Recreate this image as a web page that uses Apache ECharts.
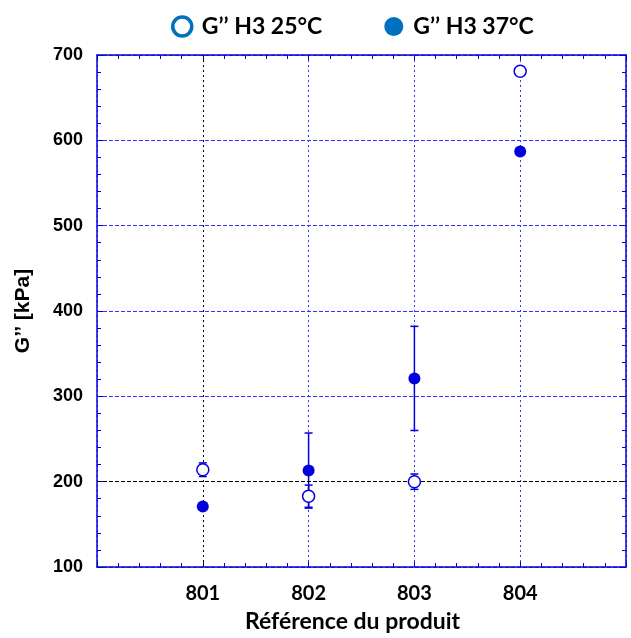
<!DOCTYPE html>
<html>
<head>
<meta charset="utf-8">
<script src="https://cdn.jsdelivr.net/npm/echarts@6/dist/echarts.min.js"></script>
<style>
  html, body { margin: 0; padding: 0; background: #fff; }
  #chart { width: 631px; height: 638px; }
</style>
</head>
<body>
<div id="chart"></div>
<script>
// produits (x) et mesures G'' en kPa
const products = [801, 802, 803, 804];
const g25 = [214, 183, 200, 681];
const g25Err = [8, 13, 9, 0];
const g37 = [171, 213, 321, 587];
const g37Err = [0, 44, 61, 0];
const yTicks = [100, 200, 300, 400, 500, 600, 700];

const markBlue = '#0000DD';
const gridBlue = '#3333ff';
const legendBlue = '#0070C0';

function toPoints (vals) {
  return products.map((p, i) => [p, vals[i]]);
}
function toBars (vals, errs) {
  return products
    .map((p, i) => [p, vals[i] - errs[i], vals[i] + errs[i], errs[i]])
    .filter(d => d[3] > 0);
}

function renderErrorBar (params, api) {
  const x = api.value(0);
  const lo = api.coord([x, api.value(1)]);
  const hi = api.coord([x, api.value(2)]);
  const half = 4;
  const style = { stroke: markBlue, lineWidth: 1.5 };
  return {
    type: 'group',
    children: [
      { type: 'line', shape: { x1: lo[0], y1: lo[1], x2: hi[0], y2: hi[1] }, style },
      { type: 'line', shape: { x1: hi[0] - half, y1: hi[1], x2: hi[0] + half, y2: hi[1] }, style },
      { type: 'line', shape: { x1: lo[0] - half, y1: lo[1], x2: lo[0] + half, y2: lo[1] }, style }
    ]
  };
}

const axisLine = { lineStyle: { color: markBlue, width: 1.5 } };
const tickStyle = { color: markBlue, width: 1 };

const chart = echarts.init(document.getElementById('chart'));
chart.setOption({
  animation: false,
  legend: {
    top: 10,
    left: 166,
    itemWidth: 19,
    itemHeight: 19,
    itemGap: 62,
    icon: 'circle',
    textStyle: { fontFamily: 'Lato', fontWeight: 'bold', fontSize: 23, color: '#000', padding: [0, 0, 0, 5] },
    data: [
      { name: 'G’’ H3 25°C', itemStyle: { color: '#fff', borderColor: legendBlue, borderWidth: 3.5 } },
      { name: 'G’’ H3 37°C', itemStyle: { color: legendBlue, borderWidth: 0 } }
    ]
  },
  grid: { left: 97, right: 5, top: 55, bottom: 69 },
  xAxis: [
    {
      type: 'value',
      min: 800,
      max: 805,
      interval: 1,
      name: 'Référence du produit',
      nameLocation: 'middle',
      nameGap: 43,
      nameTextStyle: { fontFamily: 'Lato', fontWeight: 'bold', fontSize: 23, color: '#000', padding: [0, 18, 0, 0] },
      axisLine: axisLine,
      axisTick: { inside: true, length: 5, lineStyle: tickStyle },
      minorTick: { show: true, splitNumber: 5, length: 4, lineStyle: tickStyle },
      axisLabel: {
        margin: 17,
        fontFamily: 'Lato',
        fontWeight: 'bold',
        fontSize: 20,
        color: '#000',
        formatter: v => (products.includes(v) ? String(v) : '')
      },
      splitLine: { show: true, lineStyle: { color: gridBlue, type: [2, 3], width: 1 } }
    },
    {
      type: 'value',
      position: 'top',
      min: 800,
      max: 805,
      interval: 1,
      axisLine: axisLine,
      axisTick: { inside: true, length: 5, lineStyle: tickStyle },
      minorTick: { show: true, splitNumber: 5, length: 4, lineStyle: tickStyle },
      axisLabel: { show: false },
      splitLine: { show: false }
    }
  ],
  yAxis: [
    {
      type: 'value',
      min: yTicks[0],
      max: yTicks[yTicks.length - 1],
      interval: 100,
      name: 'G’’ [kPa]',
      nameLocation: 'middle',
      nameGap: 63,
      nameTextStyle: { fontFamily: 'Liberation Sans', fontWeight: 'bold', fontSize: 21, color: '#000' },
      axisLine: axisLine,
      axisTick: { inside: true, length: 6, lineStyle: tickStyle },
      minorTick: { show: true, splitNumber: 5, length: 4, lineStyle: tickStyle },
      axisLabel: {
        margin: 14,
        fontFamily: 'Liberation Sans',
        fontWeight: 'bold',
        fontSize: 18,
        color: '#000'
      },
      splitLine: { show: true, lineStyle: { color: gridBlue, type: [4, 2], width: 1 } }
    },
    {
      type: 'value',
      position: 'right',
      min: yTicks[0],
      max: yTicks[yTicks.length - 1],
      interval: 100,
      axisLine: axisLine,
      axisTick: { inside: true, length: 6, lineStyle: tickStyle },
      minorTick: { show: true, splitNumber: 5, length: 4, lineStyle: tickStyle },
      axisLabel: { show: false },
      splitLine: { show: false }
    }
  ],
  series: [
    {
      name: 'grille-noire',
      type: 'line',
      data: [],
      markLine: {
        silent: true,
        symbol: 'none',
        label: { show: false },
        data: [
          { xAxis: 801, lineStyle: { color: '#000', type: [2, 3], width: 1 } },
          { yAxis: 200, lineStyle: { color: '#000', type: [4, 2], width: 1 } }
        ]
      }
    },
    {
      name: 'err25',
      type: 'custom',
      renderItem: renderErrorBar,
      data: toBars(g25, g25Err),
      z: 3
    },
    {
      name: 'err37',
      type: 'custom',
      renderItem: renderErrorBar,
      data: toBars(g37, g37Err),
      z: 3
    },
    {
      name: 'G’’ H3 25°C',
      type: 'scatter',
      symbol: 'circle',
      symbolSize: 12,
      itemStyle: { color: '#fff', borderColor: markBlue, borderWidth: 1.5, opacity: 1 },
      data: toPoints(g25),
      z: 5
    },
    {
      name: 'G’’ H3 37°C',
      type: 'scatter',
      symbol: 'circle',
      symbolSize: 12,
      itemStyle: { color: markBlue, opacity: 1 },
      data: toPoints(g37),
      z: 5
    }
  ]
});
</script>
</body>
</html>
